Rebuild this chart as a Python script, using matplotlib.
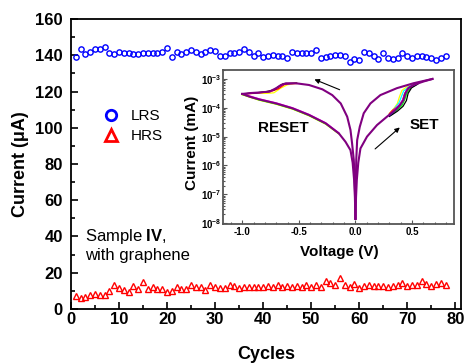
import numpy as np
import matplotlib.pyplot as plt
from matplotlib.lines import Line2D
from matplotlib.ticker import MultipleLocator, LogLocator, NullFormatter

plt.rcParams['font.family'] = ['Liberation Sans', 'DejaVu Sans']
plt.rcParams['mathtext.fontset'] = 'custom'
plt.rcParams['mathtext.rm'] = 'Liberation Sans'
plt.rcParams['mathtext.bf'] = 'Liberation Sans:bold'
plt.rcParams['axes.unicode_minus'] = False

# endurance data
cycles = list(range(1, 79))
lrs = [139.3, 143.3, 140.5, 142.0, 143.3, 143.5, 144.8, 141.0, 140.6, 142.0,
       141.0, 141.0, 140.7, 140.7, 141.0, 141.0, 141.2, 141.5, 141.8, 143.9,
       138.9, 141.7, 140.5, 142.0, 143.0, 141.7, 140.8, 141.7, 143.0, 142.3,
       139.8, 139.8, 141.0, 141.0, 142.0, 143.5, 142.0, 139.8, 141.5, 139.3,
       139.8, 140.2, 139.8, 139.8, 138.3, 141.7, 141.1, 141.1, 141.1, 141.1,
       143.0, 138.3, 139.3, 139.8, 140.2, 140.2, 139.8, 136.5, 138.0, 137.4,
       142.0, 141.1, 139.8, 138.0, 141.1, 138.3, 138.0, 138.3, 141.1, 139.8,
       138.7, 139.8, 139.8, 139.3, 138.3, 137.4, 138.7, 139.8]
hrs = [7.2, 5.9, 6.5, 7.8, 8.1, 7.8, 7.8, 10.2, 13.3, 11.5,
       10.6, 9.6, 12.8, 11.1, 14.8, 11.0, 12.0, 11.0, 11.0, 9.6,
       10.2, 11.9, 11.0, 11.0, 13.3, 12.0, 12.0, 10.6, 13.3, 12.0,
       11.5, 11.5, 13.3, 12.8, 11.5, 12.0, 12.0, 12.0, 12.0, 11.9,
       12.8, 12.0, 13.3, 12.0, 12.8, 12.0, 12.8, 12.0, 13.3, 12.0,
       13.3, 12.0, 15.7, 14.3, 13.3, 17.0, 13.3, 12.0, 13.9, 11.5,
       12.8, 13.3, 12.8, 12.8, 12.8, 12.0, 12.8, 13.3, 14.3, 12.8,
       13.3, 13.3, 15.2, 13.9, 12.8, 13.9, 14.6, 13.3]

# I-V sweep, main (purple) cycle, log10 of current in mA
v_neg_up = [0, -0.003, -0.008, -0.015, -0.03, -0.044, -0.073, -0.13, -0.205, -0.292,
            -0.41, -0.526, -0.614, -0.658, -0.70, -0.76, -0.85, -0.93, -1.0]
i_neg_up = [-7.85, -7.0, -6.4, -5.8, -5.23, -4.77, -4.31, -3.85, -3.56, -3.36,
            -3.21, -3.15, -3.15, -3.21, -3.32, -3.44, -3.47, -3.49, -3.52]
v_neg_dn = [-1.0, -0.93, -0.85, -0.70, -0.555, -0.41, -0.263, -0.146, -0.088, -0.044,
            -0.025, -0.012, -0.005, 0]
i_neg_dn = [-3.52, -3.62, -3.71, -3.85, -4.02, -4.25, -4.54, -4.89, -5.18, -5.47,
            -5.9, -6.5, -7.1, -7.85]
v_pos_set = [0, 0.005, 0.012, 0.025, 0.044, 0.102, 0.19, 0.278, 0.351, 0.395,
             0.424, 0.44, 0.468, 0.512, 0.6, 0.68]
i_pos_set = [-7.85, -7.1, -6.5, -5.9, -5.41, -5.0, -4.6, -4.31, -4.08, -3.90,
             -3.73, -3.50, -3.32, -3.21, -3.09, -3.0]
v_pos_up = [0.68, 0.512, 0.366, 0.22, 0.132, 0.073, 0.038, 0.015, 0.007, 0.003, 0]
i_pos_up = [-3.0, -3.15, -3.32, -3.56, -3.85, -4.19, -4.66, -5.12, -5.8, -6.6, -7.85]

# other cycles, only where they split from the main one
set_cols = ['yellow', 'cyan', 'lime', 'red', 'black', 'blue', 'magenta']
set_v = [[0.30, 0.34, 0.37, 0.39, 0.41, 0.46, 0.53],
         [0.30, 0.35, 0.385, 0.405, 0.425, 0.47, 0.53],
         [0.30, 0.36, 0.41, 0.435, 0.455, 0.49, 0.54],
         [0.30, 0.33, 0.38, 0.415, 0.43, 0.46, 0.52],
         [0.30, 0.37, 0.42, 0.45, 0.465, 0.495, 0.55],
         [0.30, 0.36, 0.40, 0.43, 0.45, 0.48, 0.54],
         [0.30, 0.35, 0.39, 0.42, 0.44, 0.47, 0.53]]
set_i = [[-4.20, -4.02, -3.85, -3.60, -3.40, -3.25, -3.16],
         [-4.22, -4.00, -3.82, -3.62, -3.42, -3.27, -3.17],
         [-4.28, -4.10, -3.92, -3.72, -3.48, -3.30, -3.19],
         [-4.20, -4.08, -3.95, -3.75, -3.55, -3.33, -3.20],
         [-4.30, -4.12, -3.95, -3.75, -3.50, -3.31, -3.18],
         [-4.27, -4.06, -3.88, -3.66, -3.42, -3.28, -3.17],
         [-4.24, -4.04, -3.88, -3.70, -3.46, -3.29, -3.18]]
reset_cols = ['yellow', 'lime', 'red', 'magenta', 'black']
reset_v = [[-0.52, -0.60, -0.66, -0.72, -0.78, -0.88, -1.0],
           [-0.52, -0.62, -0.67, -0.71, -0.77, -0.88, -1.0],
           [-0.52, -0.58, -0.63, -0.68, -0.75, -0.88, -1.0],
           [-0.52, -0.63, -0.69, -0.74, -0.80, -0.90, -1.0],
           [-0.52, -0.64, -0.68, -0.72, -0.80, -0.90, -1.0]]
reset_i = [[-3.16, -3.20, -3.32, -3.48, -3.50, -3.50, -3.53],
           [-3.15, -3.17, -3.25, -3.36, -3.45, -3.48, -3.52],
           [-3.15, -3.16, -3.20, -3.34, -3.44, -3.49, -3.52],
           [-3.16, -3.18, -3.30, -3.42, -3.46, -3.50, -3.53],
           [-3.15, -3.17, -3.27, -3.38, -3.45, -3.49, -3.52]]
hrs_cols = ['yellow', 'lime', 'magenta']
hrs_v = [-1.0, -0.85, -0.70, -0.555, -0.41, -0.263, -0.146]
hrs_i = [[-3.55, -3.74, -3.88, -4.05, -4.28, -4.57, -4.91],
         [-3.54, -3.73, -3.87, -4.04, -4.27, -4.56, -4.90],
         [-3.51, -3.69, -3.83, -4.00, -4.23, -4.52, -4.87]]

fig = plt.figure(figsize=(4.66, 3.64), dpi=100)
ax = fig.add_axes([0.1524, 0.1511, 0.8369, 0.7967])
ax.plot(cycles, lrs, 'o', mfc='none', mec='blue', ms=3.8, mew=1.0)
ax.plot(cycles, hrs, '^', mfc='none', mec='red', ms=4.2, mew=1.0)
ax.set_xlim(0, 81.2)
ax.set_ylim(0, 160)
ax.xaxis.set_major_locator(MultipleLocator(10))
ax.xaxis.set_minor_locator(MultipleLocator(5))
ax.yaxis.set_major_locator(MultipleLocator(20))
ax.yaxis.set_minor_locator(MultipleLocator(10))
ax.tick_params(which='both', direction='in', width=1.2)
ax.tick_params(which='major', length=5, labelsize=12)
ax.tick_params(which='minor', length=3)
ax.tick_params(axis='x', pad=2)
ax.tick_params(axis='y', pad=6)
for lab in ax.get_xticklabels() + ax.get_yticklabels():
    lab.set_fontweight('bold')
for s in ax.spines.values():
    s.set_linewidth(1.3)
ax.set_xlabel('Cycles', fontsize=13, fontweight='bold')
ax.set_ylabel('Current (μA)', fontsize=13, fontweight='bold')
ax.xaxis.set_label_coords(0.5, -0.126)
ax.yaxis.set_label_coords(-0.108, 0.5)

handles = [Line2D([], [], ls='none', marker='o', mfc='none', mec='blue', ms=7.5, mew=2),
           Line2D([], [], ls='none', marker='^', mfc='none', mec='red', ms=8, mew=2)]
fig.legend(handles, ['LRS', 'HRS'], loc='upper left', bbox_to_anchor=(0.221, 0.700),
           frameon=False, fontsize=11, handlelength=1.0, handletextpad=0.8,
           labelspacing=0.4, borderpad=0, borderaxespad=0)

ax.text(0.036, 0.283, 'Sample $\\mathbf{IV}$,\nwith graphene', transform=ax.transAxes,
        fontsize=12, va='top', ha='left', linespacing=1.2)

# inset with the I-V curves
axin = fig.add_axes([0.4785, 0.3846, 0.4957, 0.4231])
axin.set_yscale('log')
for c, ii in zip(hrs_cols, hrs_i):
    axin.plot(hrs_v, 10.0 ** np.array(ii), color=c, lw=0.9)
for c, vv, ii in zip(reset_cols, reset_v, reset_i):
    axin.plot(vv, 10.0 ** np.array(ii), color=c, lw=0.9)
for c, vv, ii in zip(set_cols, set_v, set_i):
    axin.plot(vv, 10.0 ** np.array(ii), color=c, lw=0.9)
purple = '#800080'
for vv, ii in [(v_neg_up, i_neg_up), (v_neg_dn, i_neg_dn),
               (v_pos_set, i_pos_set), (v_pos_up, i_pos_up)]:
    axin.plot(vv, 10.0 ** np.array(ii), color=purple, lw=1.5)

axin.set_xlim(-1.17, 0.87)
axin.set_ylim(10 ** -8.03, 10 ** -2.69)
axin.xaxis.set_major_locator(MultipleLocator(0.5))
axin.xaxis.set_minor_locator(MultipleLocator(0.1))
axin.set_yticks([10.0 ** e for e in range(-8, -2)])
axin.set_yticklabels(['$\\mathbf{10^{%d}}$' % e for e in range(-8, -2)])
axin.yaxis.set_minor_locator(LogLocator(base=10, subs=np.arange(2, 10)))
axin.yaxis.set_minor_formatter(NullFormatter())
axin.tick_params(which='both', direction='in', width=0.8, colors='#555555',
                 labelcolor='black', labelsize=7)
axin.tick_params(which='major', length=3)
axin.tick_params(which='minor', length=1.5)
axin.tick_params(axis='x', pad=2.5)
axin.tick_params(axis='y', pad=1)
for lab in axin.get_xticklabels():
    lab.set_fontweight('bold')
for s in axin.spines.values():
    s.set_color('#555555')
    s.set_linewidth(1.3)
axin.set_xlabel('Voltage (V)', fontsize=11, fontweight='bold')
axin.set_ylabel('Current (mA)', fontsize=11, fontweight='bold')
axin.xaxis.set_label_coords(0.502, -0.136)
axin.yaxis.set_label_coords(-0.104, 0.53)

axin.text(-0.64, 10 ** -4.7, 'RESET', fontsize=11, fontweight='bold', ha='center', va='center')
axin.text(0.605, 10 ** -4.58, 'SET', fontsize=11, fontweight='bold', ha='center', va='center')
arrow = dict(arrowstyle='-|>', color='black', lw=0.8, mutation_scale=7)
axin.annotate('', xy=(-0.385, 10 ** -2.98), xytext=(-0.117, 10 ** -3.41), arrowprops=arrow)
axin.annotate('', xy=(0.41, 10 ** -4.62), xytext=(0.155, 10 ** -5.49), arrowprops=arrow)

fig.savefig('out.png', dpi=100)
